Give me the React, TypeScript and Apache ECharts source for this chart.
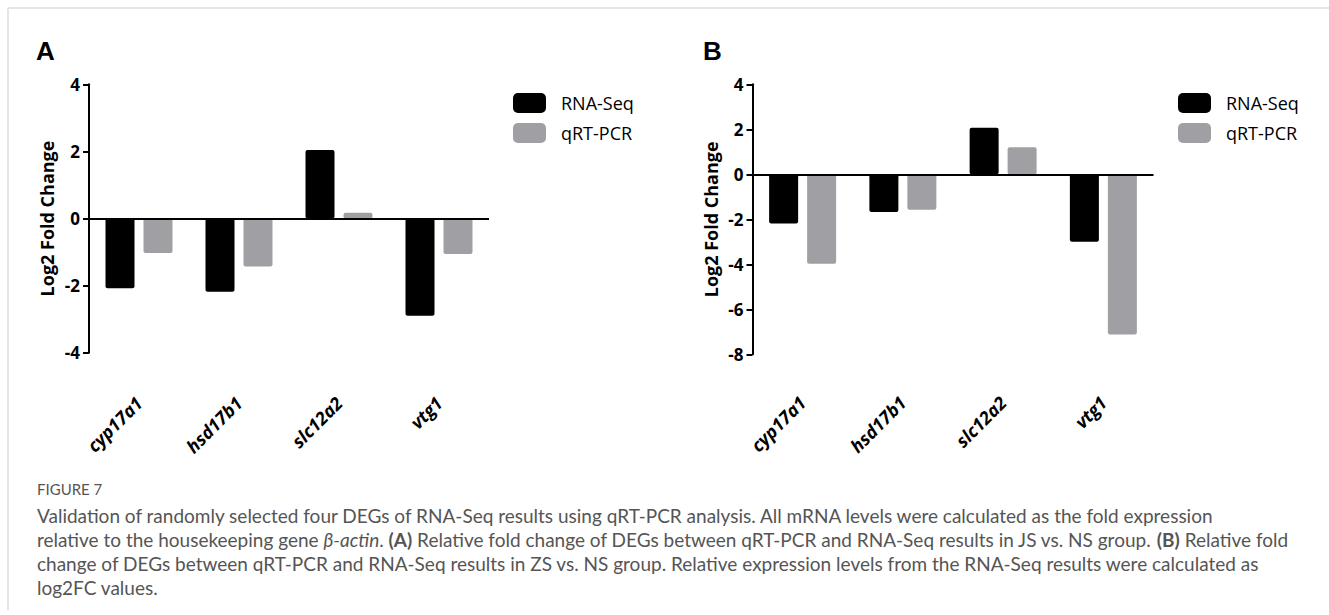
import React, { useEffect, useRef } from "react";
import * as echarts from "echarts";

const genes = ["cyp17a1", "hsd17b1", "slc12a2", "vtg1"];
const seriesNames = ["RNA-Seq", "qRT-PCR"];
const rnaSeqA = [-2.08, -2.18, 2.04, -2.9];
const qrtPcrA = [-1.03, -1.43, 0.17, -1.06];
const rnaSeqB = [-2.19, -1.67, 2.07, -3.0];
const qrtPcrB = [-3.97, -1.58, 1.2, -7.12];
const panelLabels = ["A", "B"];
const figureTitle = "FIGURE 7";
const captionLines = [
  "Validation of randomly selected four DEGs of RNA-Seq results using qRT-PCR analysis. All mRNA levels were calculated as the fold expression",
  "relative to the housekeeping gene {i|β-actin}. {b|(A)} Relative fold change of DEGs between qRT-PCR and RNA-Seq results in JS vs. NS group. {b|(B)} Relative fold",
  "change of DEGs between qRT-PCR and RNA-Seq results in ZS vs. NS group. Relative expression levels from the RNA-Seq results were calculated as",
  "log2FC values.",
];

const BLACK = "#000000";
const GRAY = "#a0a0a4";
const CAP_COLOR = "#555555";
const FONT = "'Open Sans', 'DejaVu Sans', sans-serif";
const CAP_FONT = "Lato, 'Open Sans', sans-serif";
const CAP_SIZE = 19;

export default function App() {
  const ref = useRef<HTMLDivElement>(null);
  useEffect(() => {
    if (!ref.current) return;
    const chart = echarts.init(ref.current, undefined, { renderer: "svg" });

    const grids = [
      { left: 89, top: 84.3, width: 400, height: 268.4 },
      { left: 752.5, top: 84.3, width: 401, height: 270 },
    ];
    const yRanges = [
      { min: -4, max: 4 },
      { min: -8, max: 4 },
    ];

    const xAxis = grids.map((_, i) => ({
      type: "category",
      gridIndex: i,
      data: genes,
      position: "bottom",
      axisLine: { show: false, onZero: false },
      axisTick: { show: false },
      axisLabel: {
        interval: 0,
        rotate: 45,
        margin: i === 0 ? 47 : 45,
        color: BLACK,
        fontFamily: FONT,
        fontSize: 18,
        fontWeight: "bold",
        fontStyle: "italic",
      },
    }));

    const yAxis = grids.map((_, i) => ({
      type: "value",
      gridIndex: i,
      min: yRanges[i].min,
      max: yRanges[i].max,
      interval: 2,
      name: "Log2 Fold Change",
      nameLocation: "middle",
      nameRotate: 90,
      nameGap: 33,
      nameMoveOverlap: false,
      nameTextStyle: { color: BLACK, fontFamily: FONT, fontSize: 18, fontWeight: "bold" },
      axisLine: { show: true, onZero: false, lineStyle: { color: BLACK, width: 2 } },
      axisTick: { show: true, length: 6, inside: false, lineStyle: { color: BLACK, width: 2 } },
      splitLine: { show: false },
      axisLabel: {
        margin: 9,
        color: BLACK,
        fontFamily: FONT,
        fontSize: 17,
        fontWeight: "bold",
      },
    }));

    const mkSeries = (name: string, data: number[], color: string, gi: number, withZero: boolean) => ({
      type: "bar",
      name,
      xAxisIndex: gi,
      yAxisIndex: gi,
      data,
      barWidth: 29,
      barGap: "31%",
      itemStyle: { color, borderRadius: 2 },
      markLine: withZero
        ? {
            silent: true,
            symbol: "none",
            label: { show: false },
            lineStyle: { color: BLACK, width: 2, type: "solid" },
            data: [{ yAxis: 0 }],
            z: 5,
          }
        : undefined,
    });

    const captionGraphics: any[] = captionLines.map((t, i) => ({
      type: "text",
      x: 37,
      y: 515 + i * 24,
      style: {
        text: t,
        fill: CAP_COLOR,
        font: `${CAP_SIZE}px ${CAP_FONT}`,
        verticalAlign: "middle",
        rich: {
          i: { fontStyle: "italic", fontSize: CAP_SIZE, fontFamily: CAP_FONT, fill: CAP_COLOR },
          b: { fontWeight: "bold", fontSize: CAP_SIZE, fontFamily: CAP_FONT, fill: CAP_COLOR },
        },
      },
    }));

    const option: any = {
      animation: false,
      backgroundColor: "#ffffff",
      grid: grids.map((g) => ({ ...g, containLabel: false, outerBoundsMode: "none" })),
      xAxis,
      yAxis,
      legend: [
        { left: 513, top: 93 },
        { left: 1178, top: 93 },
      ].map((p) => ({
        ...p,
        orient: "vertical",
        data: seriesNames,
        icon: "roundRect",
        itemWidth: 33,
        itemHeight: 20,
        itemGap: 10,
        selectedMode: false,
        padding: 0,
        textStyle: {
          color: BLACK,
          fontFamily: FONT,
          fontSize: 18,
          padding: [0, 0, 0, 10],
        },
      })),
      series: [
        mkSeries(seriesNames[0], rnaSeqA, BLACK, 0, true),
        mkSeries(seriesNames[1], qrtPcrA, GRAY, 0, false),
        mkSeries(seriesNames[0], rnaSeqB, BLACK, 1, true),
        mkSeries(seriesNames[1], qrtPcrB, GRAY, 1, false),
      ],
      graphic: [
        { type: "line", shape: { x1: 8, y1: 8, x2: 1329, y2: 8 }, style: { stroke: "#dcdcdc", lineWidth: 1.5 } },
        { type: "line", shape: { x1: 8, y1: 8, x2: 8, y2: 610 }, style: { stroke: "#dcdcdc", lineWidth: 1.5 } },
        {
          type: "text",
          x: 36,
          y: 51,
          style: { text: panelLabels[0], fill: BLACK, font: "bold 26px 'Liberation Sans', Arial, sans-serif", verticalAlign: "middle" },
        },
        {
          type: "text",
          x: 703,
          y: 51,
          style: { text: panelLabels[1], fill: BLACK, font: "bold 26px 'Liberation Sans', Arial, sans-serif", verticalAlign: "middle" },
        },
        {
          type: "text",
          x: 37,
          y: 489,
          style: { text: figureTitle, fill: CAP_COLOR, font: `15px ${CAP_FONT}`, verticalAlign: "middle" },
        },
        ...captionGraphics,
      ],
    };
    chart.setOption(option);
    return () => chart.dispose();
  }, []);

  return (
    <div
      ref={ref}
      style={{ position: "fixed", left: 0, top: 0, width: 1329, height: 615 }}
    />
  );
}
